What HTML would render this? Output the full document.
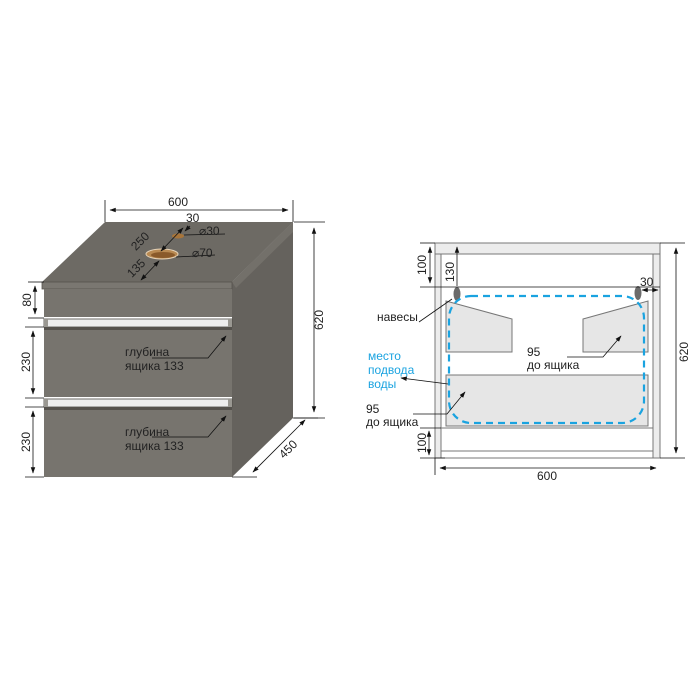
<!DOCTYPE html>
<html><head><meta charset="utf-8"><style>
html,body{margin:0;padding:0;background:#fff;}
svg{display:block;}
text{font-family:"Liberation Sans",Arial,sans-serif;font-size:12px;fill:#222;}
</style></head><body>
<svg width="700" height="700" viewBox="0 0 700 700" xmlns="http://www.w3.org/2000/svg">
<defs>
<marker id="a" viewBox="0 0 10 10" refX="9" refY="5" markerWidth="8" markerHeight="8" orient="auto-start-reverse"><path d="M0,1.5 L10,5 L0,8.5 z" fill="#111"/></marker>
</defs>
<!-- LEFT CABINET -->
<polygon points="105,222 293,222 232,282 42,282" fill="#6d6a64"/>
<polygon points="232,282 293,222 293,418 232,477" fill="#65625d"/>
<polygon points="293,222 293,232 236,288 232,282" fill="#73706a"/>
<rect x="42" y="282" width="190" height="7" fill="#7a7771" stroke="#55524d" stroke-width="0.8"/>
<rect x="44" y="289" width="188" height="188" fill="#77746e"/>
<rect x="44" y="317" width="188" height="11" fill="#fff"/>
<rect x="44" y="319" width="188" height="8" fill="#eeeeee" stroke="#4a4843" stroke-width="0.8"/>
<rect x="44" y="319" width="4" height="8" fill="#9a9892"/><rect x="228" y="319" width="4" height="8" fill="#9a9892"/>
<rect x="44" y="327" width="188" height="3" fill="#55524d"/>
<rect x="44" y="397" width="188" height="11" fill="#fff"/>
<rect x="44" y="399" width="188" height="8" fill="#eeeeee" stroke="#4a4843" stroke-width="0.8"/>
<rect x="44" y="399" width="4" height="8" fill="#9a9892"/><rect x="228" y="399" width="4" height="8" fill="#9a9892"/>
<rect x="44" y="407" width="188" height="3" fill="#55524d"/>
<!-- holes -->
<ellipse cx="178" cy="236" rx="6" ry="2.5" fill="#a8753a"/>
<ellipse cx="162" cy="254" rx="16" ry="5" fill="#b98a52" stroke="#e6d3b8" stroke-width="1"/>
<ellipse cx="163" cy="255" rx="12" ry="3" fill="#8a5a2a"/>
<!-- dims left -->
<g stroke="#111" stroke-width="0.8" fill="none">
<line x1="105" y1="200" x2="105" y2="222"/><line x1="293" y1="200" x2="293" y2="222"/>
<line x1="110" y1="210" x2="288" y2="210" marker-start="url(#a)" marker-end="url(#a)"/>
<line x1="294" y1="222" x2="325" y2="222"/><line x1="294" y1="418" x2="325" y2="418"/>
<line x1="314" y1="228" x2="314" y2="412" marker-start="url(#a)" marker-end="url(#a)"/>
<line x1="293" y1="418" x2="318" y2="418"/><line x1="232" y1="477" x2="257" y2="477"/>
<line x1="305" y1="420" x2="253" y2="472" marker-start="url(#a)" marker-end="url(#a)"/>
<line x1="28" y1="282" x2="44" y2="282"/><line x1="28" y1="318" x2="44" y2="318"/>
<line x1="35" y1="286" x2="35" y2="314" marker-start="url(#a)" marker-end="url(#a)"/>
<line x1="25" y1="327" x2="44" y2="327"/><line x1="25" y1="398" x2="44" y2="398"/>
<line x1="33" y1="331" x2="33" y2="394" marker-start="url(#a)" marker-end="url(#a)"/>
<line x1="25" y1="407" x2="44" y2="407"/><line x1="25" y1="477" x2="44" y2="477"/>
<line x1="33" y1="411" x2="33" y2="473" marker-start="url(#a)" marker-end="url(#a)"/>
<line x1="141" y1="280" x2="159" y2="261" marker-start="url(#a)" marker-end="url(#a)"/>
<line x1="161" y1="251" x2="183" y2="228" marker-start="url(#a)" marker-end="url(#a)"/>
<line x1="185" y1="231" x2="190" y2="226" marker-start="url(#a)"/>
<line x1="184" y1="235" x2="225" y2="234"/>
<line x1="176" y1="257" x2="215" y2="255"/>
<polyline points="152,358 208,358 226,336" marker-end="url(#a)"/>
<polyline points="152,437 208,437 226,416" marker-end="url(#a)"/>
</g>
<g>
<text x="178" y="206" text-anchor="middle">600</text>
<text x="186" y="222">30</text>
<text x="199" y="235">⌀30</text>
<text x="192" y="257">⌀70</text>
<text transform="translate(143,244) rotate(-45)" text-anchor="middle">250</text>
<text transform="translate(139,271) rotate(-45)" text-anchor="middle">135</text>
<text transform="translate(323,320) rotate(-90)" text-anchor="middle">620</text>
<text transform="translate(291,452) rotate(-45)" text-anchor="middle">450</text>
<text transform="translate(31,300) rotate(-90)" text-anchor="middle">80</text>
<text transform="translate(30,362) rotate(-90)" text-anchor="middle">230</text>
<text transform="translate(30,442) rotate(-90)" text-anchor="middle">230</text>
<text x="125" y="356">глубина</text>
<text x="125" y="370">ящика 133</text>
<text x="125" y="436">глубина</text>
<text x="125" y="450">ящика 133</text>
</g>
<!-- RIGHT DRAWING -->
<g stroke="#777" stroke-width="1">
<rect x="435" y="243" width="225" height="215" fill="#fff"/>
<rect x="435" y="243" width="225" height="11" fill="#ececec"/>
<rect x="435" y="254" width="6" height="204" fill="#ececec"/>
<rect x="653" y="254" width="7" height="204" fill="#ececec"/>
<rect x="441" y="451" width="212" height="7" fill="#fff"/>
<line x1="441" y1="428" x2="653" y2="428"/>
<polygon points="446,301 512,319 512,352 446,352" fill="#e6e6e6"/>
<polygon points="583,319 648,301 648,352 583,352" fill="#e6e6e6"/>
<rect x="446" y="375" width="202" height="51" fill="#e6e6e6"/>
</g>
<ellipse cx="457" cy="294" rx="3.5" ry="7" fill="#6b6b6b"/>
<ellipse cx="638" cy="293" rx="3.5" ry="7" fill="#6b6b6b"/>
<rect x="449" y="296" width="195" height="127" rx="22" fill="none" stroke="#1aa3e0" stroke-width="2.2" stroke-dasharray="7,5"/>
<g stroke="#111" stroke-width="0.8" fill="none">
<line x1="420" y1="243" x2="435" y2="243"/><line x1="420" y1="287" x2="660" y2="287"/>
<line x1="430" y1="247" x2="430" y2="283" marker-start="url(#a)" marker-end="url(#a)"/>
<line x1="457" y1="247" x2="457" y2="286" marker-start="url(#a)"/>
<line x1="660" y1="243" x2="685" y2="243"/><line x1="660" y1="458" x2="685" y2="458"/>
<line x1="676" y1="248" x2="676" y2="453" marker-start="url(#a)" marker-end="url(#a)"/>
<line x1="642" y1="290" x2="658" y2="290" marker-start="url(#a)" marker-end="url(#a)"/>
<line x1="420" y1="428" x2="441" y2="428"/><line x1="420" y1="458" x2="445" y2="458"/>
<line x1="429" y1="431" x2="429" y2="455" marker-start="url(#a)" marker-end="url(#a)"/>
<line x1="435" y1="458" x2="435" y2="475"/>
<line x1="440" y1="468" x2="656" y2="468" marker-start="url(#a)" marker-end="url(#a)"/>
<line x1="419" y1="322" x2="452" y2="299"/>
<polyline points="567,357 603,357 621,336" marker-end="url(#a)"/>
<polyline points="413,414 447,414 465,392" marker-end="url(#a)"/>
<line x1="448" y1="384" x2="401" y2="378" marker-end="url(#a)"/>
</g>
<g>
<text transform="translate(426,265) rotate(-90)" text-anchor="middle">100</text>
<text transform="translate(454,272) rotate(-90)" text-anchor="middle">130</text>
<text x="640" y="286">30</text>
<text transform="translate(688,352) rotate(-90)" text-anchor="middle">620</text>
<text transform="translate(426,443) rotate(-90)" text-anchor="middle">100</text>
<text x="547" y="480" text-anchor="middle">600</text>
<text x="377" y="321">навесы</text>
<text x="527" y="356">95</text>
<text x="527" y="369">до ящика</text>
<text x="366" y="413">95</text>
<text x="366" y="426">до ящика</text>
<text x="368" y="360" style="fill:#1aa3e0">место</text>
<text x="368" y="374" style="fill:#1aa3e0">подвода</text>
<text x="368" y="388" style="fill:#1aa3e0">воды</text>
</g>
</svg>
</body></html>
